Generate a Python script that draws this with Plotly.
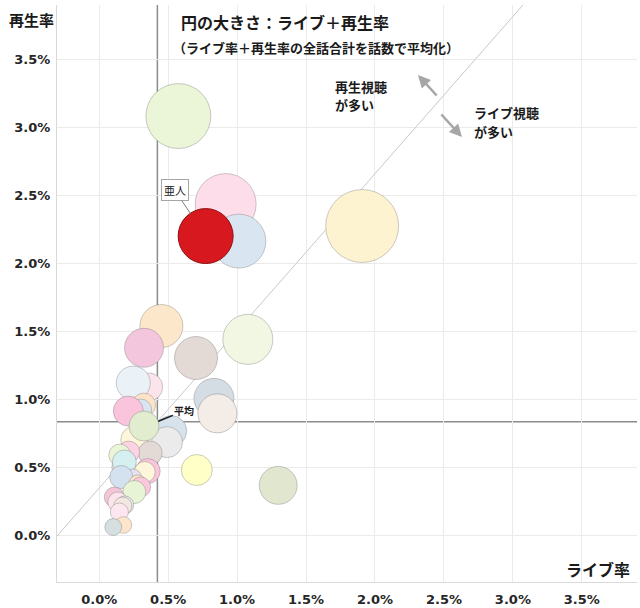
import plotly.graph_objects as go

# ---- data (values in %) ----
live_rate = [0.574, 0.917, 1.013, 1.907, 1.078, 0.451, 0.325, 0.702, 0.359, 0.247,
             0.832, 0.857, 0.323, 0.301, 0.211, 0.522, 0.492, 0.258, 0.325, 0.370,
             0.214, 0.149, 0.164, 0.182, 0.352, 0.330, 0.243, 0.160, 0.280, 0.301,
             0.254, 0.109, 0.135, 0.185, 0.171, 0.146, 0.176, 0.102, 0.708, 1.298]
replay_rate = [3.084, 2.437, 2.165, 2.276, 1.443, 1.541, 1.381, 1.306, 1.093, 1.122,
               1.010, 0.899, 0.960, 0.924, 0.916, 0.769, 0.688, 0.703, 0.806, 0.608,
               0.615, 0.593, 0.505, 0.542, 0.475, 0.468, 0.424, 0.431, 0.380, 0.358,
               0.321, 0.284, 0.248, 0.226, 0.218, 0.174, 0.079, 0.064, 0.483, 0.370]
bubble_total = [4.13, 3.64, 2.85, 5.21, 2.45, 1.81, 1.49, 1.81, 0.77, 1.13,
                1.56, 1.49, 0.56, 0.47, 0.88, 0.94, 0.94, 0.77, 0.88, 0.56,
                0.47, 0.47, 0.39, 0.56, 0.61, 0.43, 0.32, 0.52, 0.32, 0.39,
                0.52, 0.39, 0.39, 0.32, 0.32, 0.32, 0.27, 0.28, 0.94, 1.41]

highlight_name = "亜人"
highlight_live = [0.772]
highlight_replay = [2.202]
highlight_total = [2.96]

avg_live = 0.422
avg_replay = 0.838
diag_slope = 1.155

x_ticks = [0.0, 0.5, 1.0, 1.5, 2.0, 2.5, 3.0, 3.5]
y_ticks = [0.0, 0.5, 1.0, 1.5, 2.0, 2.5, 3.0, 3.5]
x_range = [-0.306, 3.9]
y_range = [-0.34, 3.9]

# ---- styles ----
colors = ["#EBF5D7", "#FDDDE9", "#D9E5F0", "#FDF3D1", "#F1F7E3", "#FDE7CA", "#F4C6DD", "#E3D9D5",
          "#FCE4EC", "#EAF1F7", "#D3DDE3", "#F4ECE6", "#FDE3C8", "#D9E5F0", "#F9C4DC", "#D6E2EC",
          "#EBEBEB", "#FEF6DA", "#E2ECCF", "#E3D9D5", "#FBD3E3", "#EBF5D7", "#FDE3C8", "#D6EFF0",
          "#F9C4DC", "#FEF6DA", "#E7E0F0", "#D4E2F0", "#FDE3C8", "#F9C8DC", "#E8F4D6", "#F2C6D6",
          "#FCE4EC", "#E3E8EE", "#F2E8E0", "#FDE6EF", "#FDE5CC", "#D5DFDF", "#FFFFC8", "#E1E6CF"]

W, H = 640, 608
ML, MR, MT, MB = 57, 3, 5, 26
PW, PH = W - ML - MR, H - MT - MB
SIZEREF = 2 * 2.96 / (55 ** 2)

JP = "Noto Sans CJK JP, sans-serif"
NUM = "DejaVu Sans, Noto Sans CJK JP, sans-serif"


def px(x, y):
    return (x - ML) / PW, (H - MB - y) / PH


fig = go.Figure()

# diagonal reference line through the average point
dx0 = x_range[0]
dy0 = avg_replay + diag_slope * (dx0 - avg_live)
dy1 = y_range[1]
dx1 = avg_live + (dy1 - avg_replay) / diag_slope
fig.add_trace(go.Scatter(x=[dx0, dx1], y=[dy0, dy1], mode="lines",
                         line=dict(color="#C8C8C8", width=1), hoverinfo="skip", showlegend=False))

fig.add_trace(go.Scatter(
    x=live_rate, y=replay_rate, mode="markers",
    marker=dict(size=bubble_total, sizemode="area", sizeref=SIZEREF, color=colors,
                opacity=1, line=dict(color="rgba(110,110,110,0.35)", width=1)),
    showlegend=False))

fig.add_trace(go.Scatter(
    x=highlight_live, y=highlight_replay, mode="markers", name=highlight_name,
    marker=dict(size=highlight_total, sizemode="area", sizeref=SIZEREF, color="#D7191F",
                opacity=1, line=dict(color="#8E1015", width=1)),
    showlegend=False))

# average lines
fig.add_shape(type="line", x0=avg_live, x1=avg_live, y0=0, y1=1, xref="x", yref="paper",
              line=dict(color="#8C8C8C", width=1.5), layer="below")
fig.add_shape(type="line", x0=0, x1=1, y0=avg_replay, y1=avg_replay, xref="paper", yref="y",
              line=dict(color="#8C8C8C", width=1.5), layer="below")

ann = []


def text(x, y, s, size, anchor="left", bold=True, color="#1A1A1A"):
    ax_, ay_ = px(x, y)
    ann.append(dict(x=ax_, y=ay_, xref="paper", yref="paper", text=s, showarrow=False,
                    xanchor=anchor, yanchor="middle", align="left",
                    font=dict(family=JP, size=size, color=color, weight="bold" if bold else "normal")))


text(31, 19, "再生率", 15, anchor="center")
text(598, 569, "ライブ率", 16, anchor="center")
text(179, 22, "円の大きさ：ライブ＋再生率", 16)
text(171, 47, "（ライブ率＋再生率の全話合計を話数で平均化）", 13)
text(333, 86, "再生視聴", 13)
text(333, 104.5, "が多い", 13)
text(472, 113, "ライブ視聴", 13)
text(472, 131.5, "が多い", 13)

# gray direction arrows
for hx, hy, tx, ty in [(418, 75, 438, 97), (462, 137, 440, 113)]:
    ax_, ay_ = px(hx, hy)
    ann.append(dict(x=ax_, y=ay_, xref="paper", yref="paper", text="", showarrow=True,
                    ax=tx - hx, ay=ty - hy, arrowhead=2, arrowsize=1, arrowwidth=2.5,
                    arrowcolor="#A6A6A6"))

# highlight label
ann.append(dict(x=highlight_live[0], y=highlight_replay[0], xref="x", yref="y",
                text=highlight_name, showarrow=True, ax=-31, ay=-46, arrowhead=0,
                arrowwidth=1, arrowcolor="#7F7F7F", standoff=28,
                bgcolor="white", bordercolor="#A6A6A6", borderwidth=1, borderpad=2,
                font=dict(family=JP, size=11, color="#1A1A1A")))

# average label
ann.append(dict(x=avg_live, y=avg_replay, xref="x", yref="y", text="平均", showarrow=True,
                ax=27, ay=-11, arrowhead=0, arrowwidth=1.5, arrowcolor="#1A1A1A", standoff=1,
                font=dict(family=JP, size=10, color="#1A1A1A", weight="bold")))

fig.update_layout(
    width=W, height=H, margin=dict(l=ML, r=MR, t=MT, b=MB, autoexpand=False),
    paper_bgcolor="white", plot_bgcolor="white", annotations=ann,
    xaxis=dict(range=x_range, tickvals=x_ticks, ticktext=[f"{v:.1f}%" for v in x_ticks],
               automargin=False,
               showgrid=True, gridcolor="#EBEBEB", gridwidth=1, zeroline=False,
               showline=True, linecolor="#D9D9D9", linewidth=1,
               ticks="outside", ticklen=5, tickcolor="rgba(0,0,0,0)",
               tickfont=dict(family=NUM, size=13, color="#262626", weight="bold")),
    yaxis=dict(range=y_range, tickvals=y_ticks, ticktext=[f"{v:.1f}%" for v in y_ticks],
               automargin=False,
               showgrid=True, gridcolor="#EBEBEB", gridwidth=1, zeroline=False,
               showline=True, linecolor="#D9D9D9", linewidth=1,
               ticks="outside", ticklen=3, tickcolor="rgba(0,0,0,0)",
               tickfont=dict(family=NUM, size=13, color="#262626", weight="bold")),
)

fig.write_html("out.html", config={"displayModeBar": False},
               post_script="document.body.style.margin='0';document.body.style.overflow='hidden';")
